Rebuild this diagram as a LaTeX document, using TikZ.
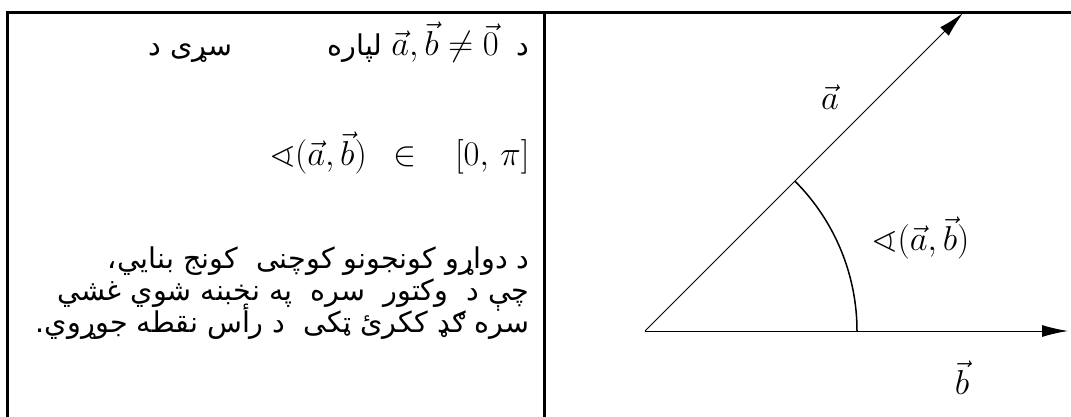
\documentclass[tikz,border=0pt]{standalone}
\usepackage{amsmath, amssymb}
\usepackage{fontspec}
\newfontfamily\arabicfont[Script=Arabic]{DejaVu Sans}
\usetikzlibrary{arrows.meta}
\TeXXeTstate=1

\tikzset{
  frameline/.style={line width=1.5pt},
  vecline/.style={line width=0.5pt, -{Latex[length=13pt,width=6pt]}},
  pstext/.style={font=\arabicfont\fontsize{14.3}{16}\selectfont, anchor=base east, inner sep=0pt},
  mathlbl/.style={font=\LARGE, inner sep=0pt}
}

\begin{document}
\begin{tikzpicture}[x=0.5pt,y=-0.5pt]
    \useasboundingbox (0,0) rectangle (1071,417);
    % Frame
    \coordinate (tl) at (7,13);
    \coordinate (tr) at (1071,13);
    \coordinate (bl) at (7,417);
    \coordinate (tm) at (544,13);
    \coordinate (bm) at (544,417);
    \draw[frameline] (bl) -- (tl) -- (tr);
    \draw[frameline] (tm) -- (bm);

    % Left column: text
    \node[pstext] (l1) at (530,56) {\beginR د \ \beginL{\LARGE$\vec{a},\vec{b}\neq\vec{0}$}\endL{} لپاره \qquad\quad سړی د\endR};
    \node[mathlbl, anchor=base east] (rng) at (530,166) {$\sphericalangle(\vec{a},\vec{b})\mskip9mu\in\mskip15mu[0,\,\pi]$};
    \node[pstext] (l3) at (530,268) {\beginR د دواړو کونجونو کوچنی \ کونج بنایي،\endR};
    \node[pstext] (l4) at (530,300) {\beginR چې د \ وکتور \ سره \ په نخبنه شوي غشي\endR};
    \node[pstext] (l5) at (530,332) {\beginR سره ګډ ککرئ ټکی \ د رأس نقطه جوړوي.\endR};

    % Right column: the two vectors and the angle
    \coordinate (O) at (645,331);
    \coordinate (A) at (963,13);
    \coordinate (B) at (1068,331);
    \draw[vecline] (O) -- (A);
    \draw[vecline] (O) -- (B);
    \draw[line width=0.75pt] (O) ++(212,0) arc[start angle=0, end angle=-45, radius=212];

    % Labels
    \node[mathlbl] (la) at (830,97) {$\vec{a}$};
    \node[mathlbl] (lang) at (921,238) {$\sphericalangle(\vec{a},\vec{b})$};
    \node[mathlbl] (lb) at (962,378) {$\vec{b}$};
\end{tikzpicture}
\end{document}
